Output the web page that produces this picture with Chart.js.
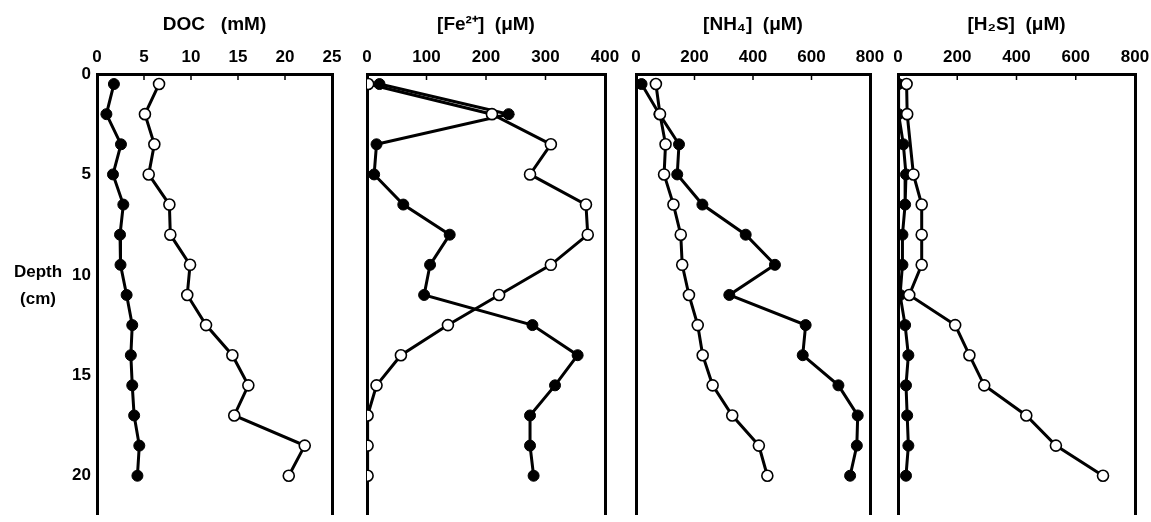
<!DOCTYPE html>
<html><head><meta charset="utf-8">
<script src="https://cdn.jsdelivr.net/npm/chart.js@4/dist/chart.umd.min.js"></script>
<style>
html,body{margin:0;padding:0;background:#fff;overflow:hidden;width:1151px;height:522px;}
canvas{position:absolute;top:0;}
</style></head><body>
<canvas id="c1"></canvas><canvas id="c2"></canvas><canvas id="c3"></canvas><canvas id="c4"></canvas>
<script>
// ---- data (depth in cm, concentrations) ----
const depths = [0.5, 2, 3.5, 5, 6.5, 8, 9.5, 11, 12.5, 14, 15.5, 17, 18.5, 20];
const depthTicks = [0, 5, 10, 15, 20];
const depthLabelLines = ['Depth', '(cm)'];

const docTitle = 'DOC   (mM)';
const docTicks = [0, 5, 10, 15, 20, 25];
const docFilled = [1.8, 1.0, 2.55, 1.7, 2.8, 2.45, 2.5, 3.15, 3.75, 3.6, 3.75, 3.95, 4.5, 4.3];
const docOpen = [6.6, 5.1, 6.1, 5.5, 7.7, 7.8, 9.9, 9.6, 11.6, 14.4, 16.1, 14.6, 22.1, 20.4];

const feTitle = '[Fe²⁺]  (μM)';
const feTicks = [0, 100, 200, 300, 400];
const feFilled = [21, 238, 16, 12, 61, 139, 106, 96, 278, 354, 316, 274, 274, 280];
const feOpen = [2, 210, 309, 274, 368, 371, 309, 222, 136, 57, 16, 1, 1, 1];

const nh4Title = '[NH₄]  (μM)';
const nh4Ticks = [0, 200, 400, 600, 800];
const nh4Filled = [19, 80, 147, 141, 227, 375, 475, 319, 580, 570, 692, 758, 755, 732];
const nh4Open = [68, 82, 101, 96, 128, 153, 158, 181, 211, 228, 262, 329, 420, 449];

const h2sTitle = '[H₂S]  (μM)';
const h2sTicks = [0, 200, 400, 600, 800];
const h2sFilled = [2, 2, 18, 27, 24, 15, 15, 7, 24, 35, 27, 31, 35, 27];
const h2sOpen = [29, 31, null, 52, 80, 80, 80, 38, 193, 241, 291, 433, 533, 692];

// ---- styling ----
const tickFont = {family: "'Liberation Sans',Arial,sans-serif", size: 17, weight: 'bold'};
const titleFont = {family: "'Liberation Sans',Arial,sans-serif", size: 19, weight: 'bold'};
const DEPTH_MAX = 21.95;
const TOP = 74;

const innerTicks = {
  id: 'innerTicks',
  beforeDatasetsDraw(chart) {
    const s = chart.scales.x, ctx = chart.ctx, top = chart.chartArea.top;
    ctx.save(); ctx.strokeStyle = '#000'; ctx.lineWidth = 1.5;
    s.ticks.forEach((t, i) => {
      if (i === 0 || i === s.ticks.length - 1) return;
      const x = s.getPixelForValue(t.value);
      ctx.beginPath(); ctx.moveTo(x, top); ctx.lineTo(x, top + 6); ctx.stroke();
    });
    ctx.restore();
  }
};
const depthLabel = {
  id: 'depthLabel',
  afterDraw(chart, args, opts) {
    if (!opts || !opts.lines) return;
    const ctx = chart.ctx;
    ctx.save();
    ctx.font = 'bold 17px ' + tickFont.family;
    ctx.fillStyle = '#000'; ctx.textAlign = 'center'; ctx.textBaseline = 'middle';
    opts.lines.forEach((l, i) => ctx.fillText(l, opts.x, opts.y + i * opts.gap));
    ctx.restore();
  }
};

function pts(vals) { return vals.map((v, i) => ({x: v, y: depths[i]})); }

function makePanel(id, left, width, plotL, plotR, title, ticks, filled, open, showY) {
  const canvas = document.getElementById(id);
  canvas.width = width; canvas.height = 522;
  canvas.style.left = left + 'px';
  const padL = showY ? 0 : plotL - left;
  const padR = left + width - plotR;
  const yW = showY ? plotL - left : 0;
  return new Chart(canvas, {
    type: 'scatter',
    data: {
      datasets: [
        {data: pts(open), showLine: true, spanGaps: true, borderColor: '#000', borderWidth: 3,
         pointRadius: 5.5, pointBackgroundColor: '#fff', pointBorderColor: '#000', pointBorderWidth: 1.6},
        {data: pts(filled), showLine: true, spanGaps: true, borderColor: '#000', borderWidth: 3,
         pointRadius: 5.5, pointBackgroundColor: '#000', pointBorderColor: '#000', pointBorderWidth: 1}
      ]
    },
    options: {
      responsive: false, animation: false, events: [],
      layout: {padding: {left: padL, right: padR, top: 0, bottom: 0}},
      plugins: {legend: {display: false}, tooltip: {enabled: false},
        depthLabel: showY ? {lines: depthLabelLines, x: 38, y: 272, gap: 27} : {}},
      scales: {
        x: {type: 'linear', position: 'top', min: ticks[0], max: ticks[ticks.length - 1],
          afterBuildTicks: s => { s.ticks = ticks.map(v => ({value: v})); },
          ticks: {font: tickFont, color: '#000', padding: 6, maxRotation: 0, autoSkip: false},
          grid: {display: false, drawTicks: false},
          border: {display: true, color: '#000', width: 3},
          title: {display: true, text: title, font: titleFont, color: '#000', padding: {top: 13, bottom: 0}},
          afterFit: s => { s.height = TOP; s.paddingLeft = 0; s.paddingRight = 0; }
        },
        y: {type: 'linear', position: 'left', reverse: true, min: 0, max: DEPTH_MAX,
          afterBuildTicks: s => { s.ticks = depthTicks.map(v => ({value: v})); },
          ticks: {display: showY, font: tickFont, color: '#000', padding: 6},
          grid: {display: false, drawTicks: false},
          border: {display: true, color: '#000', width: 3},
          afterFit: s => { s.width = yW; s.paddingTop = 0; s.paddingBottom = 0; }
        },
        yR: {type: 'linear', position: 'right', reverse: true, min: 0, max: DEPTH_MAX,
          ticks: {display: false},
          grid: {display: false, drawTicks: false},
          border: {display: true, color: '#000', width: 3},
          afterFit: s => { s.width = 0; s.paddingTop = 0; s.paddingBottom = 0; }
        }
      }
    },
    plugins: [innerTicks, depthLabel]
  });
}

makePanel('c1', 0, 350, 97, 332, docTitle, docTicks, docFilled, docOpen, true);
makePanel('c2', 340, 290, 367, 605, feTitle, feTicks, feFilled, feOpen, false);
makePanel('c3', 612, 280, 636, 870, nh4Title, nh4Ticks, nh4Filled, nh4Open, false);
makePanel('c4', 875, 276, 898, 1135, h2sTitle, h2sTicks, h2sFilled, h2sOpen, false);
</script>
</body></html>
